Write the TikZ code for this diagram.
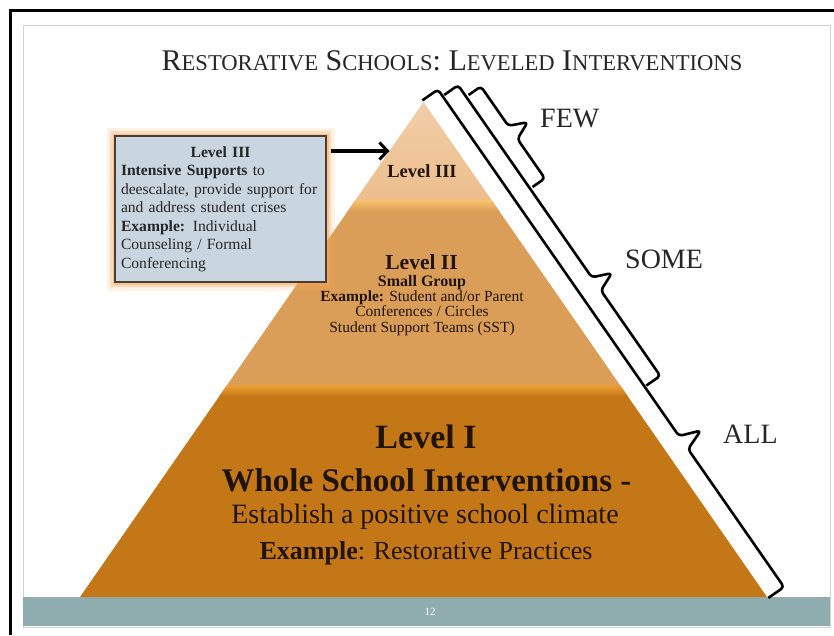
\documentclass[tikz,border=0pt]{standalone}
\usepackage{fontspec}
\setmainfont{Liberation Serif}
\usetikzlibrary{arrows.meta,positioning,calc}
\definecolor{tierone}{RGB}{196,119,22}
\definecolor{tieronehi}{RGB}{242,166,56}
\definecolor{tiertwo}{RGB}{219,158,88}
\definecolor{tiertwohi}{RGB}{252,200,112}
\definecolor{tierthree}{RGB}{236,190,140}
\definecolor{boxfill}{RGB}{201,213,223}
\definecolor{boxline}{RGB}{70,62,55}
\definecolor{glow}{RGB}{247,165,85}
\definecolor{footbar}{RGB}{143,172,174}
\definecolor{inkdark}{RGB}{32,20,10}
\definecolor{inkgray}{RGB}{38,38,38}
\tikzset{
  tierlab/.style={font=\fontsize{#1}{#1}\selectfont, text=inkdark, anchor=base, inner sep=0pt},
  tierhead/.style={tierlab=#1, font=\bfseries\fontsize{#1}{#1}\selectfont},
  countlab/.style={font=\fontsize{28}{28}\selectfont, text=inkgray, anchor=base west, inner sep=0pt},
  bracket/.style={draw=black, line width=2.6pt, rounded corners=3.5pt, line join=round},
  pointer/.style={-{Straight Barb[length=8pt,width=17pt,line width=3pt]}, line width=3.6pt, shorten <=4pt},
  infobox/.style={draw=boxline, line width=1.3pt, fill=boxfill,
    preaction={draw=glow, opacity=.15, line width=17pt},
    preaction={draw=glow, opacity=.3, line width=10pt},
    preaction={draw=glow, opacity=.45, line width=5pt},
    minimum width=211pt, minimum height=146pt, text width=199pt, inner xsep=6pt,
    align=left, text=inkgray, font=\fontsize{15.6}{18.5}\selectfont},
}
\newcommand{\titlecap}[2]{{\fontsize{30}{30}\selectfont #1}{\fontsize{22.6}{22.6}\selectfont #2}}
% s0, s1, hook t, line t, tip s, tip t (along the right face)
\newcommand{\levelbrace}[6]{%
  \draw[bracket] (#1,#3) -- (#1,#4) -- ({#5-8},#4) -- (#5,#6) -- ({#5+8},#4) -- (#2,#4) -- (#2,#3);}

\begin{document}
\begin{tikzpicture}[x=1pt,y=-1pt]
  \useasboundingbox (0,0) rectangle (834,635);
  % slide frame and footer
  \draw[gray!35, line width=1pt] (23,25) rectangle (830,627);
  \draw[line width=3pt] (10,635) -- (10,10) -- (834,10);
  \fill[footbar] (23,597) rectangle (830,626);
  \node[font=\fontsize{11}{11}\selectfont, text=white] (pagenum) at (430,612) {12};

  \node[anchor=base, text=inkgray, inner sep=0pt, font=\fontsize{30}{30}\selectfont] (title) at (452,70)
    {\titlecap{R}{ESTORATIVE} \titlecap{S}{CHOOLS}: \titlecap{L}{EVELED} \titlecap{I}{NTERVENTIONS}};

  % pyramid
  \coordinate (apex) at (423.5,102);
  \coordinate (tip3) at (389.5,151);
  \fill[tierone] (227.1,385) -- (619.9,385) -- (767,597) -- (80,597) -- cycle;
  \begin{scope}
    \clip (227.1,385) -- (619.9,385) -- (767,597) -- (80,597) -- cycle;
    \shade[top color=tieronehi, bottom color=tierone] (60,384) rectangle (780,396);
  \end{scope}
  \fill[tiertwo] (355.5,200) -- (491.5,200) -- (619.9,385) -- (227.1,385) -- cycle;
  \begin{scope}
    \clip (355.5,200) -- (491.5,200) -- (619.9,385) -- (227.1,385) -- cycle;
    \shade[top color=tiertwohi, bottom color=tiertwo] (200,199) rectangle (650,211);
  \end{scope}
  \shade[top color=tierthree!75!white, bottom color=tierthree] (apex) -- (491.5,200) -- (355.5,200) -- cycle;

  % tier texts
  \node[tierhead=18.5] (lvl3) at (422,177) {Level III};
  \node[tierhead=21.5] (lvl2) at (421.5,269) {Level II};
  \node[tierhead=16] (lvl2grp) at (422,286) {Small Group};
  \node[tierlab=15.5, anchor=north, align=center] (lvl2ex) at (422,290.3)
    {\textbf{Example:} Student and/or Parent\\ Conferences / Circles\\ Student Support Teams (SST)};
  \node[tierhead=34] (lvl1) at (426,448) {Level I};
  \node[tierhead=33] (lvl1whole) at (426.5,491) {Whole School Interventions -};
  \node[tierlab=28] (lvl1goal) at (425,523) {Establish a positive school climate};
  \node[tierlab=26] (lvl1ex) at (426,559) {\textbf{Example}: Restorative Practices};

  % callout for level III
  \node[infobox] (box3) at (220.5,209)
    {\hspace*{\fill}\textbf{Level III}\hspace*{\fill}\null\\
     \textbf{Intensive Supports} to\\
     deescalate, provide support for\\
     and address student crises\\
     \textbf{Example:} Individual\\
     Counseling / Formal\\
     Conferencing};
  \draw[pointer] (box3.east |- tip3) -- (tip3);

  % braces along the right face
  \begin{scope}[x={(0.571pt,-0.821pt)}, y={(0.821pt,0.571pt)}, shift={(423.5pt,-102pt)}]
    \levelbrace{-2}{604}{0}{19}{428}{40}
    \levelbrace{6}{360}{21}{38}{248}{57}
    \levelbrace{20}{132}{41}{56}{76}{74}
  \end{scope}
  \node[countlab] (few) at (540,127) {FEW};
  \node[countlab] (some) at (625,268) {SOME};
  \node[countlab] (all) at (723,443) {ALL};
\end{tikzpicture}
\end{document}
